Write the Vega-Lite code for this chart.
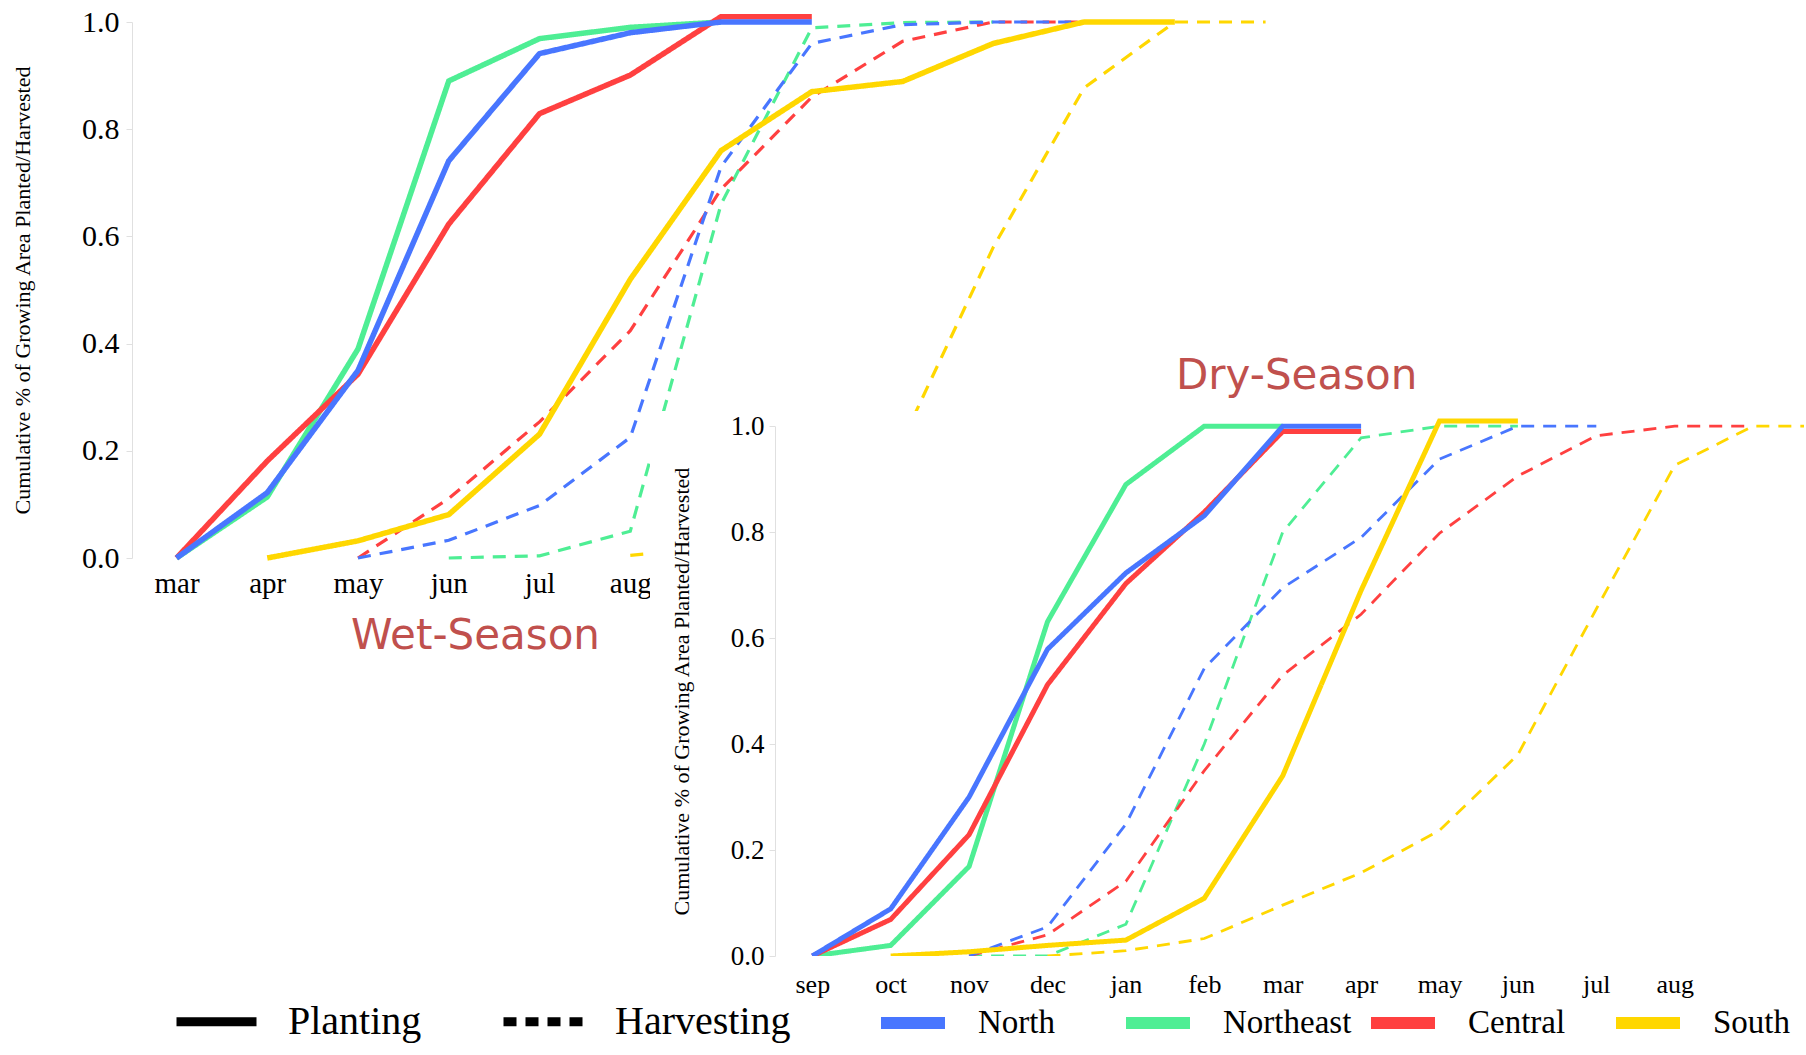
{
  "$schema": "https://vega.github.io/schema/vega-lite/v6.json",
  "padding": {"left": 11, "top": 5, "right": 0, "bottom": 0},
  "config": {
    "view": {"stroke": null},
    "axis": {"grid": false, "labelFont": "Liberation Serif", "titleFont": "Liberation Serif", "labelColor": "black", "titleColor": "black", "titleFontWeight": "normal", "domainColor": "#e0e0e0", "tickColor": "#e0e0e0", "labelFlush": false, "labelOverlap": false},
    "title": {"font": "DejaVu Sans", "fontSize": 42, "fontWeight": "normal", "color": "#C0504D"}
  },
  "datasets": {
    "wet": [
      {"t":"Harvesting","r":"Northeast","m":3,"v":0},{"t":"Harvesting","r":"Northeast","m":4,"v":0.004},{"t":"Harvesting","r":"Northeast","m":5,"v":0.05},{"t":"Harvesting","r":"Northeast","m":6,"v":0.66},{"t":"Harvesting","r":"Northeast","m":7,"v":0.989},{"t":"Harvesting","r":"Northeast","m":8,"v":0.999},{"t":"Harvesting","r":"Northeast","m":9,"v":1.0},
      {"t":"Harvesting","r":"Central","m":2,"v":0},{"t":"Harvesting","r":"Central","m":3,"v":0.111},{"t":"Harvesting","r":"Central","m":4,"v":0.254},{"t":"Harvesting","r":"Central","m":5,"v":0.424},{"t":"Harvesting","r":"Central","m":6,"v":0.688},{"t":"Harvesting","r":"Central","m":7,"v":0.86},{"t":"Harvesting","r":"Central","m":8,"v":0.964},{"t":"Harvesting","r":"Central","m":9,"v":1.0},{"t":"Harvesting","r":"Central","m":10,"v":1.0},
      {"t":"Harvesting","r":"North","m":2,"v":0},{"t":"Harvesting","r":"North","m":3,"v":0.033},{"t":"Harvesting","r":"North","m":4,"v":0.098},{"t":"Harvesting","r":"North","m":5,"v":0.225},{"t":"Harvesting","r":"North","m":6,"v":0.73},{"t":"Harvesting","r":"North","m":7,"v":0.96},{"t":"Harvesting","r":"North","m":8,"v":0.995},{"t":"Harvesting","r":"North","m":9,"v":1.0},{"t":"Harvesting","r":"North","m":10,"v":1.0},
      {"t":"Harvesting","r":"South","m":5,"v":0.005},{"t":"Harvesting","r":"South","m":6,"v":0.02},{"t":"Harvesting","r":"South","m":7,"v":0.08},{"t":"Harvesting","r":"South","m":8,"v":0.22},{"t":"Harvesting","r":"South","m":9,"v":0.58},{"t":"Harvesting","r":"South","m":10,"v":0.877},{"t":"Harvesting","r":"South","m":11,"v":1.0},{"t":"Harvesting","r":"South","m":12,"v":1.0},
      {"t":"Planting","r":"Northeast","m":0,"v":0},{"t":"Planting","r":"Northeast","m":1,"v":0.114},{"t":"Planting","r":"Northeast","m":2,"v":0.39},{"t":"Planting","r":"Northeast","m":3,"v":0.89},{"t":"Planting","r":"Northeast","m":4,"v":0.969},{"t":"Planting","r":"Northeast","m":5,"v":0.99},{"t":"Planting","r":"Northeast","m":6,"v":1.0},
      {"t":"Planting","r":"Central","m":0,"v":0},{"t":"Planting","r":"Central","m":1,"v":0.181},{"t":"Planting","r":"Central","m":2,"v":0.343},{"t":"Planting","r":"Central","m":3,"v":0.623},{"t":"Planting","r":"Central","m":4,"v":0.829},{"t":"Planting","r":"Central","m":5,"v":0.901},{"t":"Planting","r":"Central","m":6,"v":1.01},{"t":"Planting","r":"Central","m":7,"v":1.01},
      {"t":"Planting","r":"North","m":0,"v":0},{"t":"Planting","r":"North","m":1,"v":0.122},{"t":"Planting","r":"North","m":2,"v":0.35},{"t":"Planting","r":"North","m":3,"v":0.741},{"t":"Planting","r":"North","m":4,"v":0.941},{"t":"Planting","r":"North","m":5,"v":0.98},{"t":"Planting","r":"North","m":6,"v":1.0},{"t":"Planting","r":"North","m":7,"v":1.0},
      {"t":"Planting","r":"South","m":1,"v":0},{"t":"Planting","r":"South","m":2,"v":0.032},{"t":"Planting","r":"South","m":3,"v":0.081},{"t":"Planting","r":"South","m":4,"v":0.231},{"t":"Planting","r":"South","m":5,"v":0.52},{"t":"Planting","r":"South","m":6,"v":0.76},{"t":"Planting","r":"South","m":7,"v":0.87},{"t":"Planting","r":"South","m":8,"v":0.889},{"t":"Planting","r":"South","m":9,"v":0.96},{"t":"Planting","r":"South","m":10,"v":1.0},{"t":"Planting","r":"South","m":11,"v":1.0}
    ],
    "dry": [
      {"t":"Harvesting","r":"Northeast","m":2,"v":0},{"t":"Harvesting","r":"Northeast","m":3,"v":0},{"t":"Harvesting","r":"Northeast","m":4,"v":0.06},{"t":"Harvesting","r":"Northeast","m":5,"v":0.4},{"t":"Harvesting","r":"Northeast","m":6,"v":0.8},{"t":"Harvesting","r":"Northeast","m":7,"v":0.978},{"t":"Harvesting","r":"Northeast","m":8,"v":1.0},{"t":"Harvesting","r":"Northeast","m":9,"v":1.0},
      {"t":"Harvesting","r":"Central","m":2,"v":0},{"t":"Harvesting","r":"Central","m":3,"v":0.04},{"t":"Harvesting","r":"Central","m":4,"v":0.141},{"t":"Harvesting","r":"Central","m":5,"v":0.35},{"t":"Harvesting","r":"Central","m":6,"v":0.53},{"t":"Harvesting","r":"Central","m":7,"v":0.645},{"t":"Harvesting","r":"Central","m":8,"v":0.798},{"t":"Harvesting","r":"Central","m":9,"v":0.906},{"t":"Harvesting","r":"Central","m":10,"v":0.982},{"t":"Harvesting","r":"Central","m":11,"v":1.0},{"t":"Harvesting","r":"Central","m":12,"v":1.0},
      {"t":"Harvesting","r":"North","m":2,"v":0},{"t":"Harvesting","r":"North","m":3,"v":0.055},{"t":"Harvesting","r":"North","m":4,"v":0.249},{"t":"Harvesting","r":"North","m":5,"v":0.543},{"t":"Harvesting","r":"North","m":6,"v":0.695},{"t":"Harvesting","r":"North","m":7,"v":0.79},{"t":"Harvesting","r":"North","m":8,"v":0.938},{"t":"Harvesting","r":"North","m":9,"v":1.0},{"t":"Harvesting","r":"North","m":10,"v":1.0},
      {"t":"Harvesting","r":"South","m":3,"v":0},{"t":"Harvesting","r":"South","m":4,"v":0.01},{"t":"Harvesting","r":"South","m":5,"v":0.033},{"t":"Harvesting","r":"South","m":6,"v":0.096},{"t":"Harvesting","r":"South","m":7,"v":0.157},{"t":"Harvesting","r":"South","m":8,"v":0.237},{"t":"Harvesting","r":"South","m":9,"v":0.38},{"t":"Harvesting","r":"South","m":10,"v":0.655},{"t":"Harvesting","r":"South","m":11,"v":0.926},{"t":"Harvesting","r":"South","m":12,"v":1.0},{"t":"Harvesting","r":"South","m":13,"v":1.0},
      {"t":"Planting","r":"Northeast","m":0,"v":0},{"t":"Planting","r":"Northeast","m":1,"v":0.02},{"t":"Planting","r":"Northeast","m":2,"v":0.169},{"t":"Planting","r":"Northeast","m":3,"v":0.631},{"t":"Planting","r":"Northeast","m":4,"v":0.89},{"t":"Planting","r":"Northeast","m":5,"v":1.0},{"t":"Planting","r":"Northeast","m":6,"v":1.0},
      {"t":"Planting","r":"Central","m":0,"v":0},{"t":"Planting","r":"Central","m":1,"v":0.069},{"t":"Planting","r":"Central","m":2,"v":0.229},{"t":"Planting","r":"Central","m":3,"v":0.512},{"t":"Planting","r":"Central","m":4,"v":0.703},{"t":"Planting","r":"Central","m":5,"v":0.838},{"t":"Planting","r":"Central","m":6,"v":0.99},{"t":"Planting","r":"Central","m":7,"v":0.99},
      {"t":"Planting","r":"North","m":0,"v":0},{"t":"Planting","r":"North","m":1,"v":0.089},{"t":"Planting","r":"North","m":2,"v":0.3},{"t":"Planting","r":"North","m":3,"v":0.579},{"t":"Planting","r":"North","m":4,"v":0.723},{"t":"Planting","r":"North","m":5,"v":0.831},{"t":"Planting","r":"North","m":6,"v":1.0},{"t":"Planting","r":"North","m":7,"v":1.0},
      {"t":"Planting","r":"South","m":1,"v":0},{"t":"Planting","r":"South","m":2,"v":0.008},{"t":"Planting","r":"South","m":3,"v":0.02},{"t":"Planting","r":"South","m":4,"v":0.03},{"t":"Planting","r":"South","m":5,"v":0.109},{"t":"Planting","r":"South","m":6,"v":0.34},{"t":"Planting","r":"South","m":7,"v":0.69},{"t":"Planting","r":"South","m":8,"v":1.01},{"t":"Planting","r":"South","m":9,"v":1.01}
    ]
  },
  "spacing": 0,
  "bounds": "flush",
  "vconcat": [
    {
      "width": 1150,
      "height": 389,
      "title": {"text": "Wet-Season", "orient": "bottom", "anchor": "start", "frame": "group", "dx": 219, "offset": 18},
      "data": {"name": "wet"},
      "encoding": {
        "x": {"field": "m", "type": "quantitative", "scale": {"domain": [0, 12], "range": [44.5, 1133.6], "nice": false, "zero": false},
              "axis": {"offset": 147, "values": [0,1,2,3,4,5,6,7,8,9,10,11], "labelExpr": "['mar','apr','may','jun','jul','aug','sep','oct','nov','dec','jan','feb'][datum.value]", "title": null, "domain": false, "ticks": false, "labelFontSize": 29, "labelPadding": 11, "labelAngle": 0}},
        "y": {"field": "v", "type": "quantitative", "scale": {"domain": [0, 1], "range": [536, 0], "nice": false},
              "axis": {"values": [0, 0.2, 0.4, 0.6, 0.8, 1], "format": ".1f", "title": "Cumulative % of Growing Area Planted/Harvested", "titleFontSize": 22, "labelFontSize": 30, "tickSize": 6, "labelPadding": 7, "titlePadding": 47}},
        "color": {"field": "r", "type": "nominal", "scale": {"domain": ["North", "Northeast", "Central", "South"], "range": ["#4876FF", "#4EEE94", "#FF4040", "#FFD700"]},
                  "legend": {"orient": "none", "legendX": 743, "legendY": 963, "direction": "horizontal", "columns": 4, "gridAlign": "all", "columnPadding": -5, "title": null, "symbolType": "stroke", "symbolSize": 4096, "symbolStrokeWidth": 12, "labelFont": "Liberation Serif", "labelFontSize": 33, "labelOffset": 27, "labelLimit": 400, "padding": 0}},
        "strokeDash": {"field": "t", "type": "nominal", "scale": {"domain": ["Planting", "Harvesting"], "range": [[1, 0], [13, 9]]},
                  "legend": {"orient": "none", "legendX": 40, "legendY": 955, "direction": "horizontal", "columns": 2, "gridAlign": "all", "columnPadding": 21, "title": null, "symbolType": "stroke", "symbolSize": 6400, "symbolStrokeWidth": 9, "symbolStrokeColor": "black", "labelFont": "Liberation Serif", "labelFontSize": 40, "labelOffset": 27, "labelLimit": 400, "padding": 0}}
      },
      "layer": [
        {"transform": [{"filter": "datum.t == 'Harvesting'"}], "mark": {"type": "line", "strokeWidth": 3.2}},
        {"transform": [{"filter": "datum.t == 'Planting'"}], "mark": {"type": "line", "strokeWidth": 5.5}}
      ]
    },
    {
      "spacing": 0,
      "bounds": "flush",
      "hconcat": [
        {"width": 518, "height": 10, "data": {"values": []}, "mark": "point"},
        {
          "width": 1154,
          "height": 545,
          "view": {"fill": "white"},
          "title": {"text": "Dry-Season", "orient": "top", "anchor": "start", "frame": "group", "dx": 526, "offset": 13},
          "data": {"name": "dry"},
          "encoding": {
            "x": {"field": "m", "type": "quantitative", "scale": {"domain": [0, 13], "range": [162.3, 1181.5], "nice": false, "zero": false},
                  "axis": {"values": [0,1,2,3,4,5,6,7,8,9,10,11], "labelExpr": "['sep','oct','nov','dec','jan','feb','mar','apr','may','jun','jul','aug'][datum.value]", "title": null, "domain": false, "ticks": false, "labelFontSize": 26, "labelPadding": 15, "labelAngle": 0}},
            "y": {"field": "v", "type": "quantitative", "scale": {"domain": [0, 1], "range": [545, 15.2], "nice": false},
                  "axis": {"orient": "left", "offset": -125, "values": [0, 0.2, 0.4, 0.6, 0.8, 1], "format": ".1f", "title": "Cumulative % of Growing Area Planted/Harvested", "titleFontSize": 22, "labelFontSize": 27, "tickSize": 6, "labelPadding": 5, "titlePadding": 37}},
            "color": {"field": "r", "type": "nominal", "scale": {"domain": ["North", "Northeast", "Central", "South"], "range": ["#4876FF", "#4EEE94", "#FF4040", "#FFD700"]},
                      "legend": {"orient": "none", "legendX": 743, "legendY": 963, "direction": "horizontal", "columns": 4, "gridAlign": "all", "columnPadding": -5, "title": null, "symbolType": "stroke", "symbolSize": 4096, "symbolStrokeWidth": 12, "labelFont": "Liberation Serif", "labelFontSize": 33, "labelOffset": 27, "labelLimit": 400, "padding": 0}},
            "strokeDash": {"field": "t", "type": "nominal", "scale": {"domain": ["Planting", "Harvesting"], "range": [[1, 0], [13, 9]]},
                      "legend": {"orient": "none", "legendX": 40, "legendY": 955, "direction": "horizontal", "columns": 2, "gridAlign": "all", "columnPadding": 21, "title": null, "symbolType": "stroke", "symbolSize": 6400, "symbolStrokeWidth": 9, "symbolStrokeColor": "black", "labelFont": "Liberation Serif", "labelFontSize": 40, "labelOffset": 27, "labelLimit": 400, "padding": 0}}
          },
          "layer": [
            {"transform": [{"filter": "datum.t == 'Harvesting'"}], "mark": {"type": "line", "strokeWidth": 2.8, "clip": true}},
            {"transform": [{"filter": "datum.t == 'Planting'"}], "mark": {"type": "line", "strokeWidth": 5, "clip": true}}
          ]
        }
      ]
    }
  ]
}
